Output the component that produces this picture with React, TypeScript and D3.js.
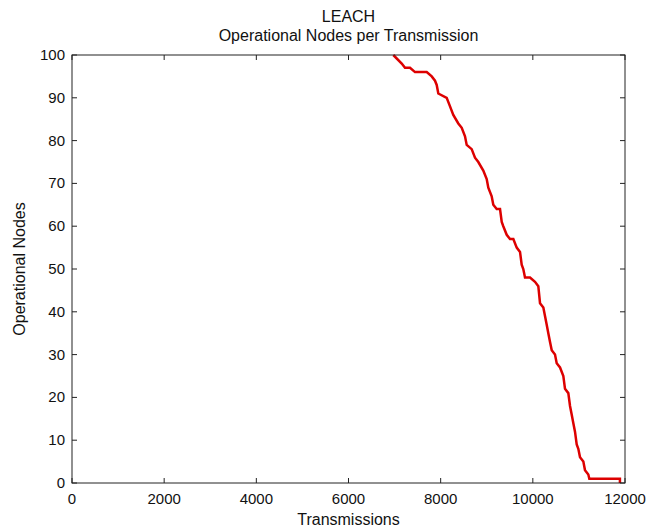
import React from "react";
import * as d3 from "d3";

const W = 646;
const H = 531;

const titleLines = ["LEACH", "Operational Nodes per Transmission"];
const xLabel = "Transmissions";
const yLabel = "Operational Nodes";

const xTicks = [0, 2000, 4000, 6000, 8000, 10000, 12000];
const yTicks = [0, 10, 20, 30, 40, 50, 60, 70, 80, 90, 100];

const transmissions = [
  6972, 7155, 7226, 7335, 7443, 7697, 7806, 7877, 7914, 7949, 8131, 8203, 8274,
  8383, 8457, 8528, 8565, 8673, 8745, 8817, 8925, 8999, 9034, 9107, 9142, 9216,
  9288, 9325, 9359, 9433, 9505, 9577, 9650, 9722, 9758, 9793, 9830, 9939, 10047,
  10119, 10156, 10228, 10264, 10301, 10336, 10372, 10410, 10481, 10518, 10590,
  10662, 10698, 10770, 10807, 10843, 10878, 10915, 10952, 10987, 11024, 11096,
  11132, 11204, 11226, 11890, 11890,
];
const operationalNodes = [
  100, 98, 97, 97, 96, 96, 95, 94, 93, 91, 90, 88, 86, 84, 83, 81, 79, 78, 76,
  75, 73, 71, 69, 67, 65, 64, 64, 61, 60, 58, 57, 57, 55, 54, 51, 50, 48, 48, 47,
  46, 42, 41, 39, 37, 35, 33, 31, 30, 28, 27, 25, 22, 21, 18, 16, 14, 12, 9, 8,
  6, 5, 3, 2, 1, 1, 0,
];

export default function App() {
  const left = 72;
  const right = 625;
  const top = 55;
  const bottom = 483;

  const x = d3.scaleLinear().domain([0, 12000]).range([left, right]);
  const y = d3.scaleLinear().domain([0, 100]).range([bottom, top]);

  const pts: [number, number][] = transmissions.map((t, i) => [t, operationalNodes[i]]);
  const line = d3
    .line<[number, number]>()
    .x((d) => x(d[0]))
    .y((d) => y(d[1]));

  const font = "'Liberation Sans', Arial, sans-serif";
  const axisColor = "#222";
  const tickLen = 5;

  return (
    <svg
      width={W}
      height={H}
      style={{ position: "absolute", left: 0, top: 0, background: "#fff" }}
      fontFamily={font}
    >
      <rect x={0} y={0} width={W} height={H} fill="#fff" />

      <path
        d={line(pts) || ""}
        fill="none"
        stroke="#dd0000"
        strokeWidth={2.5}
        strokeLinejoin="miter"
      />

      <rect
        x={left}
        y={top}
        width={right - left}
        height={bottom - top}
        fill="none"
        stroke={axisColor}
        strokeWidth={1}
      />

      {xTicks.map((t) => (
        <g key={"x" + t}>
          <line x1={x(t)} x2={x(t)} y1={bottom} y2={bottom - tickLen} stroke={axisColor} />
          <line x1={x(t)} x2={x(t)} y1={top} y2={top + tickLen} stroke={axisColor} />
          <text x={x(t)} y={504} textAnchor="middle" fontSize={15} fill="#111">
            {t}
          </text>
        </g>
      ))}

      {yTicks.map((t) => (
        <g key={"y" + t}>
          <line x1={left} x2={left + tickLen} y1={y(t)} y2={y(t)} stroke={axisColor} />
          <line x1={right} x2={right - tickLen} y1={y(t)} y2={y(t)} stroke={axisColor} />
          <text x={65} y={y(t) + 5} textAnchor="end" fontSize={15} fill="#111">
            {t}
          </text>
        </g>
      ))}

      <text x={(left + right) / 2} y={22} textAnchor="middle" fontSize={16} fill="#111">
        {titleLines[0]}
      </text>
      <text x={(left + right) / 2} y={41} textAnchor="middle" fontSize={16} fill="#111">
        {titleLines[1]}
      </text>

      <text x={(left + right) / 2} y={525} textAnchor="middle" fontSize={16} fill="#111">
        {xLabel}
      </text>
      <text
        transform={`translate(25, ${(top + bottom) / 2}) rotate(-90)`}
        textAnchor="middle"
        fontSize={16}
        fill="#111"
      >
        {yLabel}
      </text>
    </svg>
  );
}
